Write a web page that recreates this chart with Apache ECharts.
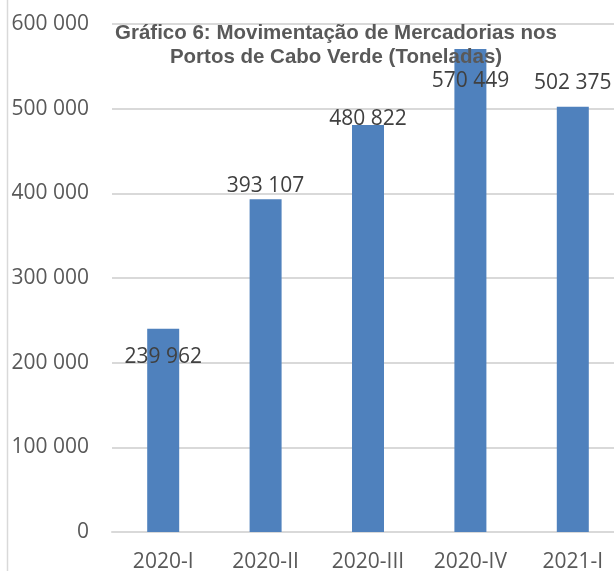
<!DOCTYPE html>
<html>
<head>
<meta charset="utf-8">
<script src="https://cdn.jsdelivr.net/npm/echarts@6/dist/echarts.min.js"></script>
<style>
html,body{margin:0;padding:0;background:#fff;}
#chart{width:614px;height:571px;}
</style>
</head>
<body>
<div id="chart"></div>
<script>
const categories = ['2020-I', '2020-II', '2020-III', '2020-IV', '2021-I'];
const values = [239962, 393107, 480822, 570449, 502375];
const yTicks = [0, 100000, 200000, 300000, 400000, 500000, 600000];
const titleText = 'Gráfico 6: Movimentação de Mercadorias nos\nPortos de Cabo Verde (Toneladas)';

// label vertical nudges (manual placement in the original)
const labelOffsets = [44, 2, 10, 47, -8];

function fmt(v) {
  return String(v).replace(/\B(?=(\d{3})+(?!\d))/g, ' ');
}

const chart = echarts.init(document.getElementById('chart'), null, {renderer: 'canvas'});
chart.setOption({
  animation: false,
  backgroundColor: '#ffffff',
  title: {
    text: titleText,
    left: 331,
    top: 16,
    textAlign: 'center',
    textStyle: {
      fontFamily: '"Liberation Sans", Arial, sans-serif',
      fontWeight: 'bold',
      fontSize: 20.5,
      lineHeight: 24,
      color: '#595959'
    }
  },
  graphic: [{
    type: 'line',
    shape: {x1: 7.5, y1: 0, x2: 7.5, y2: 571},
    style: {stroke: '#d9d9d9', lineWidth: 1.5},
    z: -1
  }],
  grid: {left: 112, right: -10, top: 24, bottom: 39, containLabel: false, outerBoundsMode: 'none'},
  xAxis: {
    type: 'category',
    data: categories,
    axisLine: {show: true, lineStyle: {color: '#d9d9d9', width: 2}},
    axisTick: {show: false},
    axisLabel: {
      margin: 20,
      fontFamily: '"Open Sans", sans-serif',
      fontSize: 21,
      color: '#595959'
    }
  },
  yAxis: {
    type: 'value',
    min: yTicks[0],
    max: yTicks[yTicks.length - 1],
    interval: yTicks[1] - yTicks[0],
    axisLine: {show: false},
    axisTick: {show: false},
    splitLine: {lineStyle: {color: '#d9d9d9', width: 2}},
    axisLabel: {
      margin: 23,
      fontFamily: '"Open Sans", sans-serif',
      fontSize: 21,
      color: '#595959',
      formatter: v => fmt(v)
    }
  },
  series: [{
    type: 'bar',
    barWidth: 32,
    itemStyle: {color: '#4F81BD'},
    data: values.map((v, i) => ({
      value: v,
      label: {offset: [0, labelOffsets[i]]}
    })),
    label: {
      show: true,
      position: 'top',
      fontFamily: '"Open Sans", sans-serif',
      fontSize: 21,
      color: '#404040',
      formatter: p => fmt(p.value)
    }
  }]
});
</script>
</body>
</html>
